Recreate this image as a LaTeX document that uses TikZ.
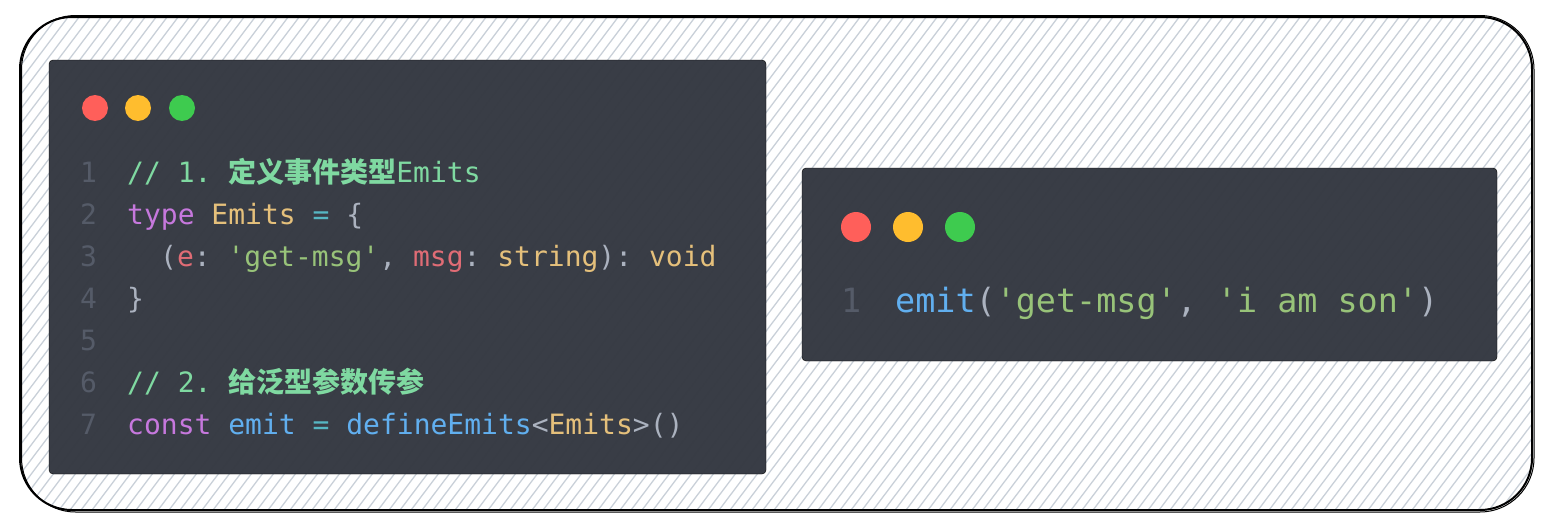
\documentclass[tikz,border=0pt]{standalone}
\usepackage{fontspec}
\setmonofont{DejaVu Sans Mono}
\newfontfamily\cjk{Noto Sans CJK SC}
\definecolor{boxbg}{HTML}{363A43}
\definecolor{hatch}{HTML}{C9D0D8}
\definecolor{lnumc}{HTML}{555B68}
\definecolor{ccomment}{HTML}{7FD9A1}
\definecolor{cpurple}{HTML}{C678DD}
\definecolor{cyellow}{HTML}{E5C07B}
\definecolor{ccyan}{HTML}{56B6C2}
\definecolor{cred}{HTML}{E06C75}
\definecolor{cgreen}{HTML}{98C379}
\definecolor{cblue}{HTML}{61AFEF}
\definecolor{cgray}{HTML}{ABB2BF}
\definecolor{dotred}{HTML}{FF5F5A}
\definecolor{dotyellow}{HTML}{FFBD2E}
\definecolor{dotgreen}{HTML}{3ECB4F}
\tikzset{
  codebox/.style={fill=boxbg, fill opacity=0.985, rounded corners=4pt},
  codeline/.style={anchor=base west, inner sep=0pt, text=cgray, font=\ttfamily\fontsize{28}{28}\selectfont},
  lnum/.style={codeline, text=lnumc},
  bigline/.style={codeline, font=\ttfamily\fontsize{33.4}{34}\selectfont},
  biglnum/.style={bigline, text=lnumc}
}
\begin{document}
\begin{tikzpicture}[x=1pt, y=-1pt, line join=round, line cap=round]
	\useasboundingbox (0,0) rectangle (1549,530);
	% hatched frame
	\begin{scope}
		\clip[rounded corners=52pt] (20,17) rectangle (1532,510);
		\foreach \k in {-40,...,150} \draw[hatch, line width=1.3pt] ({11*\k},530) -- ({11*\k+400},0);
	\end{scope}
	\draw[line width=2pt, rounded corners=52pt] (20,17) rectangle (1532,510);
	\draw[line width=1pt, rounded corners=54pt] (21.5,15.5) rectangle (1534,512);
	% left window
	\draw[codebox] (49,60) rectangle (766,474);
	\fill[dotred] (95,108) circle (13pt);
	\fill[dotyellow] (138,108) circle (13pt);
	\fill[dotgreen] (182,108) circle (13pt);
	\foreach \i in {1,...,7} \node[lnum] (n\i) at (80,{140+42*\i}) {\i};
	\node[codeline] (l1) at (127,182) {\textcolor{ccomment}{// 1. {\cjk\bfseries 定义事件类型}Emits}};
	\node[codeline] (l2) at (127,224) {\textcolor{cpurple}{type} \textcolor{cyellow}{Emits} \textcolor{ccyan}{=} \{};
	\node[codeline] (l3) at (160,266) {(\textcolor{cred}{e}: \textcolor{cgreen}{'get-msg'}, \textcolor{cred}{msg}: \textcolor{cyellow}{string}): \textcolor{cyellow}{void}};
	\node[codeline] (l4) at (127,308) {\}};
	\node[codeline] (l6) at (127,392) {\textcolor{ccomment}{// 2. {\cjk\bfseries 给泛型参数传参}}};
	\node[codeline] (l7) at (127,434) {\textcolor{cpurple}{const} \textcolor{cblue}{emit} \textcolor{ccyan}{=} \textcolor{cblue}{defineEmits}<\textcolor{cyellow}{Emits}>()};
	% right window
	\draw[codebox] (802,168) rectangle (1497,361);
	\fill[dotred] (856,227) circle (15pt);
	\fill[dotyellow] (908,227) circle (15pt);
	\fill[dotgreen] (960,227) circle (15pt);
	\node[biglnum] (m1) at (841,312) {1};
	\node[bigline] (r1) at (895,312) {\textcolor{cblue}{emit}(\textcolor{cgreen}{'get-msg'}, \textcolor{cgreen}{'i am son'})};
\end{tikzpicture}
\end{document}
